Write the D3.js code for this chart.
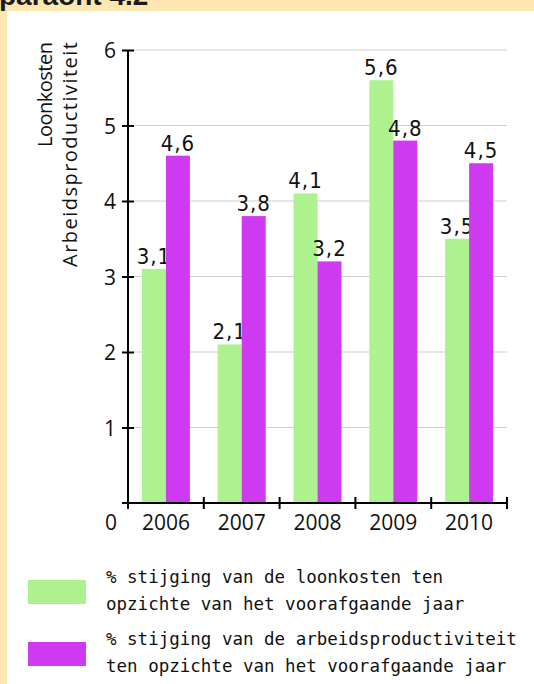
<!DOCTYPE html>
<html>
<head>
<meta charset="utf-8">
<script src="https://cdn.jsdelivr.net/npm/d3@7"></script>
<style>
  body { margin: 0; background: #fde6b0; }
  svg { display: block; }
</style>
</head>
<body>
<div id="chart"></div>
<script>
// data
var years = ["2006", "2007", "2008", "2009", "2010"];
var loonkosten = [3.1, 2.1, 4.1, 5.6, 3.5];
var productiviteit = [4.6, 3.8, 3.2, 4.8, 4.5];
var yTicks = [1, 2, 3, 4, 5, 6];
var seriesNames = ["loonkosten", "productiviteit"];
var legendLines = [
    ["% stijging van de loonkosten ten", "opzichte van het voorafgaande jaar"],
    ["% stijging van de arbeidsproductiviteit", "ten opzichte van het voorafgaande jaar"]
];

var colors = { loonkosten: "#adf28f", productiviteit: "#cd3aef" };

var svgWidth = 534, svgHeight = 684;
var svg = d3.select("#chart").append("svg").attr("width", svgWidth).attr("height", svgHeight);

// cream frame, white page
svg.append("rect").attr("width", svgWidth).attr("height", svgHeight).attr("fill", "#fde6b0");
svg.append("rect").attr("x", 7).attr("y", 11).attr("width", svgWidth - 7).attr("height", svgHeight - 11).attr("fill", "#fff");
svg.append("text").attr("x", -1).attr("y", 5)
    .style("font-family", "Liberation Sans, Arial, sans-serif").style("font-weight", "bold")
    .style("font-size", "28px").attr("fill", "#1a1a1a")
    .text("paraont 4.2");

var x0 = d3.scaleBand().domain(years).range([128, 507]).padding(0);
var x1 = d3.scaleBand().domain(seriesNames).range([0, 48]);
var y = d3.scaleLinear().domain([0, 6]).range([503, 50]);

var tickFont = "Open Sans, sans-serif";
var tickSize = "21px";

// gridlines
svg.append("g").selectAll("line").data(yTicks).enter().append("line")
    .attr("x1", 134).attr("x2", 507)
    .attr("y1", function (d) { return y(d); }).attr("y2", function (d) { return y(d); })
    .attr("stroke", "#cfcfcf").attr("stroke-width", 1.2);

// bars
var rows = years.map(function (yr, i) {
    return { year: yr, loonkosten: loonkosten[i], productiviteit: productiviteit[i] };
});
var groups = svg.append("g").selectAll("g").data(rows).enter().append("g")
    .attr("transform", function (d) {
        return "translate(" + (x0(d.year) + x0.bandwidth() / 2 - 24) + ",0)";
    });
var bars = groups.selectAll("g").data(function (d) {
    return seriesNames.map(function (s) { return { key: s, value: d[s] }; });
}).enter().append("g");

bars.append("rect")
    .attr("x", function (d) { return x1(d.key); })
    .attr("width", x1.bandwidth())
    .attr("y", function (d) { return y(d.value); })
    .attr("height", function (d) { return y(0) - y(d.value); })
    .attr("fill", function (d) { return colors[d.key]; });

bars.append("text")
    .attr("x", function (d) { return x1(d.key) + x1.bandwidth() / 2; })
    .attr("y", function (d) { return y(d.value) - 5; })
    .attr("text-anchor", "middle")
    .style("font-family", "Liberation Sans Narrow, DejaVu Sans Condensed, sans-serif")
    .style("font-size", "22px").style("letter-spacing", "1px")
    .attr("fill", "#111")
    .text(function (d) { return String(d.value).replace(".", ","); });

// y axis
var yAxis = svg.append("g").attr("transform", "translate(128,0)")
    .call(d3.axisLeft(y).tickValues(yTicks).tickFormat(d3.format("d")).tickSize(6).tickPadding(6).tickSizeOuter(0));
yAxis.select(".domain").attr("d", "M0," + y(6) + "V" + (y(0) + 5));
yAxis.selectAll(".tick line").attr("x1", 6);
yAxis.selectAll("path, line").attr("stroke", "#000").attr("stroke-width", 2);
yAxis.selectAll("text").style("font-family", tickFont).style("font-size", tickSize).attr("fill", "#111")
    .attr("dy", "0.36em");

// x axis with ticks at the band boundaries
var xAxis = svg.append("g").attr("transform", "translate(0," + y(0) + ")");
xAxis.append("line").attr("x1", x0.range()[0] - 6).attr("x2", x0.range()[1])
    .attr("stroke", "#000").attr("stroke-width", 2);
var bounds = years.map(function (d) { return x0(d); }).concat([x0.range()[1]]);
xAxis.selectAll(".bound").data(bounds).enter().append("line")
    .attr("x1", function (d) { return d; }).attr("x2", function (d) { return d; })
    .attr("y1", -6).attr("y2", 6)
    .attr("stroke", "#000").attr("stroke-width", 2);
xAxis.selectAll(".yr").data(years).enter().append("text")
    .attr("x", function (d) { return x0(d) + x0.bandwidth() / 2; })
    .attr("y", 27).attr("text-anchor", "middle")
    .style("font-family", tickFont).style("font-size", tickSize).attr("fill", "#111")
    .text(function (d) { return d; });
xAxis.append("text").attr("x", 111).attr("y", 27).attr("text-anchor", "middle")
    .style("font-family", tickFont).style("font-size", tickSize).attr("fill", "#111")
    .text("0");

// y axis titles
svg.append("text").attr("transform", "translate(52,42) rotate(-90)").attr("text-anchor", "end")
    .style("font-family", tickFont).style("font-size", "20px").attr("fill", "#111")
    .attr("textLength", 105).attr("lengthAdjust", "spacing")
    .text("Loonkosten");
svg.append("text").attr("transform", "translate(77,42) rotate(-90)").attr("text-anchor", "end")
    .style("font-family", tickFont).style("font-size", "20px").attr("fill", "#111")
    .attr("textLength", 225).attr("lengthAdjust", "spacing")
    .text("Arbeidsproductiviteit");

// legend
var legend = svg.append("g").selectAll("g").data(seriesNames).enter().append("g")
    .attr("transform", function (d, i) { return "translate(0," + (i * 62) + ")"; });
legend.append("rect").attr("x", 28).attr("y", 580).attr("width", 58).attr("height", 24)
    .attr("fill", function (d) { return colors[d]; });
legend.append("text")
    .style("font-family", "DejaVu Sans Mono, monospace").style("font-size", "17.5px").attr("fill", "#111")
    .selectAll("tspan").data(function (d, i) { return legendLines[i]; }).enter().append("tspan")
    .attr("x", 106).attr("y", function (d, j) { return 583 + j * 27; })
    .text(function (d) { return d; });
</script>
</body>
</html>
